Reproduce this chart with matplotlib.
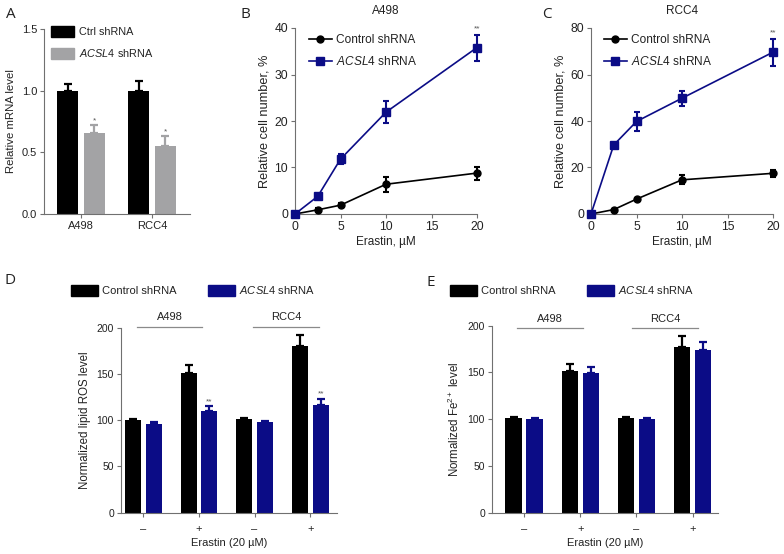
import numpy as np
import matplotlib
matplotlib.use("Agg")
import matplotlib.pyplot as plt
from matplotlib.lines import Line2D

# --- data ---
mrna_lines = ["A498", "RCC4"]
mrna_ctrl = [1.0, 1.0]
mrna_ctrl_err = [0.05, 0.08]
mrna_kd = [0.66, 0.55]
mrna_kd_err = [0.06, 0.08]

erastin_dose = [0, 2.5, 5, 10, 20]
a498_ctrl = [0, 0.9, 1.9, 6.4, 8.8]
a498_ctrl_err = [0.2, 0.3, 0.4, 1.6, 1.4]
a498_kd = [0, 3.8, 11.8, 21.9, 35.8]
a498_kd_err = [0.2, 0.5, 1.0, 2.3, 2.8]
rcc4_ctrl = [0, 1.9, 6.4, 14.7, 17.5]
rcc4_ctrl_err = [0.3, 0.4, 0.6, 2.0, 1.6]
rcc4_kd = [0, 29.7, 39.8, 49.8, 69.6]
rcc4_kd_err = [0.5, 1.0, 4.2, 3.3, 5.8]

erastin_labels = ["\u2013", "+", "\u2013", "+"]
group_names = ["A498", "RCC4"]
ros_ctrl = [100, 150.5, 101.3, 180.5]
ros_ctrl_err = [1, 9, 1.5, 11.5]
ros_kd = [96.2, 110.3, 98.4, 116.4]
ros_kd_err = [1.5, 5, 1, 7]
fe_ctrl = [101.2, 151.5, 101.2, 177.5]
fe_ctrl_err = [1.5, 8, 1, 12]
fe_kd = [99.8, 149.5, 99.8, 173.5]
fe_kd_err = [1, 6, 1, 9]

BLUE = "#0b0c86"
GREY = "#a3a3a5"
AXC = "#707070"
TXT = "#222222"

plt.rcParams["font.family"] = ["Liberation Sans", "DejaVu Sans"]
plt.rcParams["mathtext.fontset"] = "custom"
plt.rcParams["mathtext.rm"] = "Liberation Sans"
plt.rcParams["mathtext.it"] = "Liberation Sans:italic"
plt.rcParams["text.color"] = TXT
plt.rcParams["axes.labelcolor"] = TXT
plt.rcParams["xtick.color"] = AXC
plt.rcParams["ytick.color"] = AXC
plt.rcParams["xtick.labelcolor"] = TXT
plt.rcParams["ytick.labelcolor"] = TXT

W, H = 784, 554
fig = plt.figure(figsize=(W / 100, H / 100), dpi=100)
KD_LABEL = "$\\it{ACSL4}$ shRNA"


def px_axes(x0, x1, ytop, ybot):
    return fig.add_axes([x0 / W, 1 - ybot / H, (x1 - x0) / W, (ybot - ytop) / H])


def style(ax, fs=8):
    for s in ["top", "right"]:
        ax.spines[s].set_visible(False)
    for s in ["left", "bottom"]:
        ax.spines[s].set_color(AXC)
        ax.spines[s].set_linewidth(0.8)
    ax.tick_params(length=3, width=0.8, labelsize=fs, pad=2)


def panel_label(x, y, s):
    fig.text(x / W, 1 - y / H, s, fontsize=11, family="Open Sans", va="center", ha="left")


def bar_pair(ax, ctrl, ctrl_err, kd, kd_err, kd_color, width, off):
    x = np.arange(len(ctrl))
    ax.bar(x - off, ctrl, width, color="black", zorder=2)
    ax.bar(x + off, kd, width, color=kd_color, zorder=2)
    ax.errorbar(x - off, ctrl, yerr=[np.zeros(len(ctrl)), ctrl_err], fmt="none",
                ecolor="black", elinewidth=1.6, capsize=3, capthick=1.6, zorder=3)
    ax.errorbar(x + off, kd, yerr=[np.zeros(len(kd)), kd_err], fmt="none",
                ecolor=kd_color, elinewidth=1.6, capsize=3, capthick=1.6, zorder=3)
    return x


# ---------------- A ----------------
axA = px_axes(44, 190, 29, 214)
style(axA)
x = bar_pair(axA, mrna_ctrl, mrna_ctrl_err, mrna_kd, mrna_kd_err, GREY, 0.29, 0.187)
for i in range(len(mrna_kd)):
    axA.text(x[i] + 0.187, mrna_kd[i] + mrna_kd_err[i] + 0.01, "*", ha="center",
             va="bottom", fontsize=6, color="#555555")
axA.set_xlim(-0.52, 1.535)
axA.set_ylim(0, 1.5)
axA.set_yticks([0, 0.5, 1.0, 1.5])
axA.set_yticklabels(["0.0", "0.5", "1.0", "1.5"])
axA.set_xticks(x)
axA.set_xticklabels(mrna_lines)
axA.set_ylabel("Relative mRNA level", fontsize=8.2, labelpad=4)
hA = [plt.Rectangle((0, 0), 1, 1, color="black"), plt.Rectangle((0, 0), 1, 1, color=GREY)]
axA.legend(hA, ["Ctrl shRNA", KD_LABEL], loc="upper left",
           bbox_to_anchor=(51 / W, 1 - 26 / H), bbox_transform=fig.transFigure,
           frameon=False, fontsize=7.8, borderpad=0, borderaxespad=0,
           handlelength=2.1, handleheight=1.15, handletextpad=0.5, labelspacing=0.9)
panel_label(6, 15, "A")


# ---------------- B / C ----------------
def line_panel(x0, x1, ctrl, ctrl_err, kd, kd_err, ymax, ystep, title, leg_x):
    ax = px_axes(x0, x1, 28, 214)
    style(ax, fs=8.7)
    ax.errorbar(erastin_dose, ctrl, yerr=ctrl_err, color="black", marker="o", ms=5,
                lw=1.2, elinewidth=1.5, capsize=2.5, capthick=1.5, clip_on=False,
                zorder=3)
    ax.errorbar(erastin_dose, kd, yerr=kd_err, color=BLUE, marker="s", ms=5.5,
                lw=1.2, elinewidth=1.5, capsize=2.5, capthick=1.5, clip_on=False,
                zorder=4)
    ax.text(erastin_dose[-1], kd[-1] + kd_err[-1] + ymax * 0.01, "**", ha="center",
            va="bottom", fontsize=6, color="#555555")
    ax.set_xlim(0, 20)
    ax.set_ylim(0, ymax)
    ax.set_xticks([0, 5, 10, 15, 20])
    ax.set_yticks(np.arange(0, ymax + 1, ystep))
    ax.set_xlabel("Erastin, \u00b5M", fontsize=8.5, labelpad=2)
    ax.set_ylabel("Relative cell number, %", fontsize=9.2, labelpad=3)
    fig.text((x0 + x1) / 2 / W, 1 - 11 / H, title, fontsize=8.5, ha="center", va="center")
    hs = [Line2D([], [], color="black", marker="o", ms=5, lw=1.2),
          Line2D([], [], color=BLUE, marker="s", ms=5.5, lw=1.2)]
    ax.legend(hs, ["Control shRNA", KD_LABEL], loc="upper left",
              bbox_to_anchor=(leg_x / W, 1 - 34 / H),
              bbox_transform=fig.transFigure, frameon=False, fontsize=8.6, borderpad=0,
              borderaxespad=0, handlelength=1.9, handletextpad=0.35, labelspacing=0.75)
    return ax


line_panel(295, 477, a498_ctrl, a498_ctrl_err, a498_kd, a498_kd_err, 40, 10, "A498", 309)
panel_label(240, 14, "B")
line_panel(591, 773, rcc4_ctrl, rcc4_ctrl_err, rcc4_kd, rcc4_kd_err, 80, 20, "RCC4", 604)
panel_label(542, 14, "C")


# ---------------- D / E ----------------
def bar_panel(x0, x1, ytop, xlim, ctrl, ctrl_err, kd, kd_err, ylabel, stars, line_y,
              text_y, spans, leg_x):
    ax = px_axes(x0, x1, ytop, 512.7)
    style(ax, fs=7.5)
    x = bar_pair(ax, ctrl, ctrl_err, kd, kd_err, BLUE, 0.29, 0.186)
    for i in stars:
        ax.text(x[i] + 0.186, kd[i] + kd_err[i] + 1, "**", ha="center", va="bottom",
                fontsize=6, color="#555555")
    ax.set_xlim(*xlim)
    ax.set_ylim(0, 200)
    ax.set_yticks([0, 50, 100, 150, 200])
    ax.set_xticks(x)
    ax.set_xticklabels(erastin_labels, fontsize=8)
    ax.tick_params(axis="x", pad=5)
    ax.set_xlabel("Erastin (20 \u00b5M)", fontsize=8, labelpad=3)
    ax.set_ylabel(ylabel, fontsize=8.3, labelpad=4)
    for name, (a, b) in zip(group_names, spans):
        ax.plot([a, b], [line_y, line_y], color="#8a8a8a", lw=0.9, clip_on=False)
        ax.text((a + b) / 2, text_y, name, ha="center", va="center", fontsize=8)
    hs = [plt.Rectangle((0, 0), 1, 1, color="black"), plt.Rectangle((0, 0), 1, 1, color=BLUE)]
    ax.legend(hs, ["Control shRNA", KD_LABEL], loc="upper left", ncol=2,
              bbox_to_anchor=(leg_x / W, 1 - 284 / H), bbox_transform=fig.transFigure,
              frameon=False, fontsize=8, borderpad=0, borderaxespad=0,
              handlelength=2.4, handleheight=1.15, handletextpad=0.35, columnspacing=2.9)
    return ax


bar_panel(121, 337, 327.7, (-0.40, 3.48), ros_ctrl, ros_ctrl_err, ros_kd, ros_kd_err,
          "Normalized lipid ROS level", [1, 3], 200.5, 212,
          [(-0.11, 1.06), (1.97, 3.16)], 71)
panel_label(5, 281, "D")
bar_panel(492, 718, 325.7, (-0.57, 3.45), fe_ctrl, fe_ctrl_err, fe_kd, fe_kd_err,
          "Normalized Fe$^{2+}$ level", [], 197.5, 207,
          [(-0.13, 1.04), (1.92, 3.10)], 450)
panel_label(427, 282, "E")

fig.savefig("out.png", dpi=100)
